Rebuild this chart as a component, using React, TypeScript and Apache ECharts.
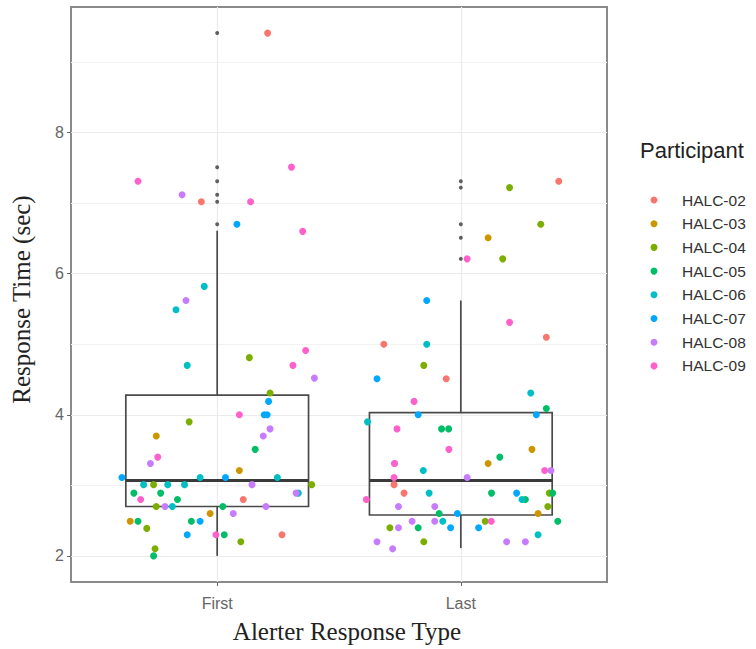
import React, { useEffect, useRef } from "react";
import * as echarts from "echarts";

const categories = ["First", "Last"];
const participants = ["HALC-02", "HALC-03", "HALC-04", "HALC-05", "HALC-06", "HALC-07", "HALC-08", "HALC-09"];
const colors = ["#F8766D", "#CD9600", "#7CAE00", "#00BE67", "#00BFC4", "#00A9FF", "#C77CFF", "#FF61CC"];

// box stats: [category position, min(whisker), Q1, median, Q3, max(whisker)]
const boxFirst = [1, 2.0, 2.7, 3.07, 4.28, 6.61];
const boxLast = [2, 2.11, 2.58, 3.07, 4.03, 5.62];
const outliersFirst = [9.41, 7.51, 7.31, 7.12, 7.02, 6.7];
const outliersLast = [7.31, 7.22, 6.7, 6.51, 6.21];

const yTicks = [2, 4, 6, 8];
const yMinorTicks = [3, 5, 7, 9];
const xTicks = [1, 2];

// jittered points: [jittered category position, response time]
const halc02 = [[1.207, 9.41], [0.935, 7.02], [1.107, 2.8], [1.266, 2.3],
  [2.402, 7.31], [1.684, 5.0], [2.351, 5.1], [1.94, 4.51], [1.726, 3.01], [1.767, 2.89]];
const halc03 = [[0.75, 3.7], [1.091, 3.21], [0.971, 2.6], [0.643, 2.49],
  [2.112, 6.51], [2.292, 3.51], [2.112, 3.31], [2.317, 2.6]];
const halc04 = [[1.132, 4.81], [1.217, 4.31], [0.885, 3.9], [0.739, 3.01], [1.388, 3.01], [0.75, 2.7], [0.711, 2.39], [1.097, 2.2], [0.745, 2.1],
  [2.2, 7.22], [2.328, 6.7], [2.172, 6.21], [1.848, 4.7], [2.363, 2.89], [2.357, 2.7], [2.1, 2.49], [1.709, 2.4], [1.848, 2.2]];
const halc05 = [[1.156, 3.51], [0.658, 2.89], [0.768, 2.89], [0.837, 2.8], [1.023, 2.7], [0.675, 2.49], [0.894, 2.49], [1.029, 2.3], [0.739, 2.0],
  [2.351, 4.09], [1.921, 3.8], [1.95, 3.8], [2.16, 3.4], [2.126, 2.89], [2.377, 2.89], [2.265, 2.8], [1.911, 2.6], [2.398, 2.49], [1.825, 2.4]];
const halc06 = [[0.947, 5.82], [0.831, 5.49], [0.877, 4.7], [0.93, 3.11], [1.247, 3.11], [0.698, 3.01], [0.797, 3.01], [0.866, 3.01], [1.333, 2.89], [0.816, 2.7],
  [1.86, 5.0], [2.287, 4.31], [1.617, 3.9], [1.846, 3.21], [1.87, 2.89], [2.251, 2.8], [1.926, 2.49], [2.317, 2.3]];
const halc07 = [[1.081, 6.7], [1.211, 4.19], [1.193, 4.0], [1.205, 4.0], [0.609, 3.11], [1.034, 3.11], [0.93, 2.49], [0.877, 2.3],
  [1.86, 5.62], [1.656, 4.51], [1.825, 4.0], [2.31, 4.0], [2.229, 2.89], [1.986, 2.6], [1.958, 2.4], [2.073, 2.4]];
const halc08 = [[0.856, 7.12], [0.872, 5.62], [1.399, 4.52], [1.217, 3.8], [1.189, 3.7], [0.726, 3.31], [1.143, 3.01], [1.324, 2.89], [0.786, 2.7], [1.2, 2.7], [1.066, 2.6],
  [1.728, 3.31], [2.37, 3.21], [2.026, 3.11], [1.744, 2.7], [1.893, 2.7], [1.8, 2.49], [1.893, 2.49], [1.744, 2.4], [1.656, 2.2], [2.188, 2.2], [2.265, 2.2], [1.72, 2.1]];
const halc09 = [[1.305, 7.51], [0.675, 7.31], [1.137, 7.02], [1.351, 6.6], [1.363, 4.91], [1.311, 4.7], [1.091, 4.0], [0.756, 3.4], [0.686, 2.8], [0.995, 2.3],
  [2.026, 6.21], [2.2, 5.31], [1.808, 4.19], [1.738, 3.8], [1.951, 3.51], [1.728, 3.31], [2.344, 3.21], [1.726, 3.11], [1.612, 2.8], [2.125, 2.49]];

const pointSets = [halc02, halc03, halc04, halc05, halc06, halc07, halc08, halc09];

export default function App() {
  const ref = useRef<HTMLDivElement>(null);
  useEffect(() => {
    if (!ref.current) return;
    const chart = echarts.init(ref.current, null, { renderer: "svg" });
    const gridColor = "#ebebeb";
    const minorColor = "#f2f2f2";
    const boxColor = "#4a4a4a";
    const option: any = {
      animation: false,
      backgroundColor: "#ffffff",
      title: {
        text: "Participant",
        left: 640,
        top: 139,
        padding: 0,
        textStyle: { fontFamily: "Liberation Sans", fontSize: 22, fontWeight: "normal", color: "#222" },
      },
      legend: {
        data: participants,
        orient: "vertical",
        left: 650.5,
        top: 191,
        padding: 0,
        icon: "circle",
        itemWidth: 46,
        itemHeight: 7,
        itemGap: 5.7,
        textStyle: { fontFamily: "Liberation Sans", fontSize: 15.5, color: "#333", lineHeight: 18 },
      },
      grid: {
        left: 71,
        right: 149,
        top: 7,
        bottom: 64,
        show: true,
        borderColor: "#8a8a8a",
        borderWidth: 2,
        backgroundColor: "transparent",
      },
      xAxis: {
        type: "value",
        min: 0.4,
        max: 2.6,
        axisLine: { show: false },
        splitLine: { show: false },
        axisTick: { customValues: xTicks, length: 4, lineStyle: { color: "#666" } },
        axisLabel: {
          customValues: xTicks,
          formatter: (v: number) => categories[Math.round(v) - 1] ?? "",
          color: "#666",
          fontFamily: "Liberation Sans",
          fontSize: 16,
          margin: 13,
        },
        name: "Alerter Response Type",
        nameLocation: "middle",
        nameGap: 37,
        nameTextStyle: { fontFamily: "Liberation Serif", fontSize: 25, color: "#222", padding: [0, 0, 0, 16] },
      },
      yAxis: {
        type: "value",
        min: 1.63,
        max: 9.78,
        axisLine: { show: false },
        splitLine: { show: false },
        axisTick: { customValues: yTicks, length: 4, lineStyle: { color: "#666" } },
        axisLabel: {
          customValues: yTicks,
          color: "#666",
          fontFamily: "Liberation Sans",
          fontSize: 16,
          margin: 7,
        },
        name: "Response Time (sec)",
        nameLocation: "middle",
        nameGap: 37,
        nameRotate: 90,
        nameTextStyle: { fontFamily: "Liberation Serif", fontSize: 25, color: "#222", padding: [0, 10, 0, 0] },
      },
      series: [
        {
          type: "scatter",
          data: [],
          z: 1,
          silent: true,
          markLine: {
            silent: true,
            z: 1,
            symbol: ["none", "none"],
            label: { show: false },
            animation: false,
            data: [
              ...yMinorTicks.map((v) => ({ yAxis: v, lineStyle: { color: minorColor, width: 1, type: "solid" } })),
              ...yTicks.map((v) => ({ yAxis: v, lineStyle: { color: gridColor, width: 1.2, type: "solid" } })),
              ...xTicks.map((v) => ({ xAxis: v, lineStyle: { color: gridColor, width: 1.2, type: "solid" } })),
            ],
          },
        },
        {
          type: "custom",
          z: 2,
          silent: true,
          data: [boxFirst, boxLast],
          encode: { x: 0, y: [1, 2, 3, 4, 5] },
          renderItem: (params: any, api: any) => {
            const x = api.value(0);
            const mn = api.value(1);
            const q1 = api.value(2);
            const md = api.value(3);
            const q3 = api.value(4);
            const mx = api.value(5);
            const halfW = api.size([0.75, 0])[0] / 2;
            const pMin = api.coord([x, mn]);
            const pQ1 = api.coord([x, q1]);
            const pMd = api.coord([x, md]);
            const pQ3 = api.coord([x, q3]);
            const pMax = api.coord([x, mx]);
            const cx = pMd[0];
            const st = { stroke: boxColor, lineWidth: 1.7, fill: "none" };
            return {
              type: "group",
              children: [
                { type: "line", shape: { x1: cx, y1: pMax[1], x2: cx, y2: pQ3[1] }, style: st },
                { type: "line", shape: { x1: cx, y1: pQ1[1], x2: cx, y2: pMin[1] }, style: st },
                { type: "rect", shape: { x: cx - halfW, y: pQ3[1], width: 2 * halfW, height: pQ1[1] - pQ3[1] }, style: st },
                { type: "line", shape: { x1: cx - halfW, y1: pMd[1], x2: cx + halfW, y2: pMd[1] }, style: { stroke: "#3a3a3a", lineWidth: 3 } },
              ],
            };
          },
        },
        {
          type: "scatter",
          z: 3,
          silent: true,
          symbolSize: 4,
          itemStyle: { color: "#3a3a3a" },
          data: [...outliersFirst.map((v) => [1, v]), ...outliersLast.map((v) => [2, v])],
        },
        ...participants.map((p, i) => ({
          type: "scatter",
          name: p,
          z: 4,
          symbol: "circle",
          symbolSize: 7,
          itemStyle: { color: colors[i], opacity: 1 },
          data: pointSets[i],
        })),
      ],
    };
    chart.setOption(option);
    return () => chart.dispose();
  }, []);
  return <div ref={ref} style={{ position: "fixed", left: 0, top: 0, width: 756, height: 649 }} />;
}
